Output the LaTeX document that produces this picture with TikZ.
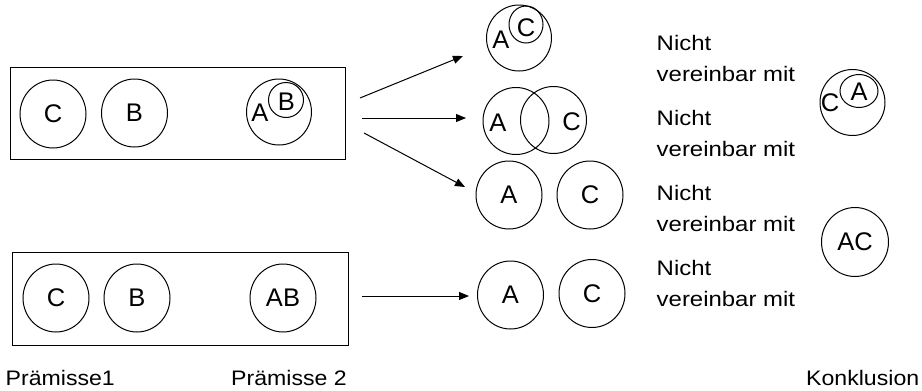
\documentclass[tikz,border=0pt]{standalone}
\usepackage{fontspec}
\setmainfont{Liberation Sans}
\usetikzlibrary{shapes.geometric,arrows.meta}

\tikzset{
  setnode/.style={draw, ellipse, inner sep=0pt, line width=1pt,
    minimum width=66pt, minimum height=68pt, font=\fontsize{25.5}{29}\selectfont},
  subnode/.style={draw, ellipse, inner sep=0pt, line width=1pt,
    minimum width=35pt, minimum height=35pt},
  letter/.style={inner sep=0pt, font=\fontsize{25.5}{29}\selectfont},
  premisebox/.style={draw, line width=1pt},
  sidetext/.style={anchor=base west, inner sep=0pt, xscale=1.14,
    font=\fontsize{21}{25}\selectfont},
  caption/.style={anchor=base west, inner sep=0pt, xscale=1.1,
    font=\fontsize{21}{25}\selectfont},
  arr/.style={line width=1pt, -{Triangle[length=10pt,width=8pt]}},
}

\begin{document}
\begin{tikzpicture}[x=1pt, y=-1pt]
\useasboundingbox (0,0) rectangle (922,391);

% premise boxes
\draw[premisebox] (10,67) rectangle (345,159);
\draw[premisebox] (12,252) rectangle (348,345);

% first premise pair: C, B, and B inside A
\node[setnode] (c1) at (53,114) {C};
\node[setnode] (b1) at (134.5,113) {B};
\node[setnode, minimum width=65pt, minimum height=66pt] (a1) at (279,112) {};
\node[subnode] (b1in) at (286,100) {};
\node[letter] (a1l) at (260,113) {A};
\node[letter] (b1l) at (286.5,102) {B};

% second premise pair: C, B, AB
\node[setnode] (c2) at (56,298) {C};
\node[setnode] (b2) at (137,298) {B};
\node[setnode] (ab2) at (283,298) {AB};

% possible relations of A and C
\node[setnode, minimum width=65pt, minimum height=66pt] (r1) at (519,38) {};
\node[subnode, minimum width=34pt, minimum height=37pt] (r1in) at (526,24.5) {};
\node[letter] (r1a) at (501,40) {A};
\node[letter] (r1c) at (526,28) {C};

\node[setnode, minimum height=67pt] (r2a) at (516,121) {};
\node[setnode, minimum height=67pt] (r2c) at (553.5,120) {};
\node[letter] (r2al) at (498,122.5) {A};
\node[letter] (r2cl) at (571.5,122) {C};

\node[setnode] (r3a) at (509,195) {A};
\node[setnode] (r3c) at (590,195) {C};

\node[setnode] (r4a) at (510.5,295) {A};
\node[setnode] (r4c) at (592,293.5) {C};

% connectors from the premises to the relations
\coordinate (s1) at (360,98);
\coordinate (s2) at (362,118);
\coordinate (s3) at (364,133);
\coordinate (s4) at (362,296);
\coordinate (t1) at (463,56);
\coordinate (t2) at (466,118);
\coordinate (t3) at (465,187);
\coordinate (t4) at (469,296);
\draw[arr] (s1) -- (t1);
\draw[arr] (s2) -- (t2);
\draw[arr] (s3) -- (t3);
\draw[arr] (s4) -- (t4);

% side remarks
\node[sidetext] (n1a) at (656.5,50) {Nicht};
\node[sidetext] (n1b) at (656.5,81) {vereinbar mit};
\node[sidetext] (n2a) at (656.5,125) {Nicht};
\node[sidetext] (n2b) at (656.5,156) {vereinbar mit};
\node[sidetext] (n3a) at (656.5,200) {Nicht};
\node[sidetext] (n3b) at (656.5,231) {vereinbar mit};
\node[sidetext] (n4a) at (656.5,275) {Nicht};
\node[sidetext] (n4b) at (656.5,306) {vereinbar mit};

% conclusions
\node[setnode, minimum width=65pt, minimum height=66pt] (k1) at (852.5,102.5) {};
\node[subnode, minimum width=38pt, minimum height=33pt] (k1in) at (859,91) {};
\node[letter] (k1c) at (830,103) {C};
\node[letter] (k1a) at (859,92) {A};

\node[setnode, minimum width=67pt, minimum height=69pt] (k2) at (855,242) {AC};

% captions
\node[caption] (cap1) at (5.5,385) {Prämisse1};
\node[caption] (cap2) at (231,385) {Prämisse 2};
\node[caption] (cap3) at (806,385) {Konklusion};
\end{tikzpicture}
\end{document}
